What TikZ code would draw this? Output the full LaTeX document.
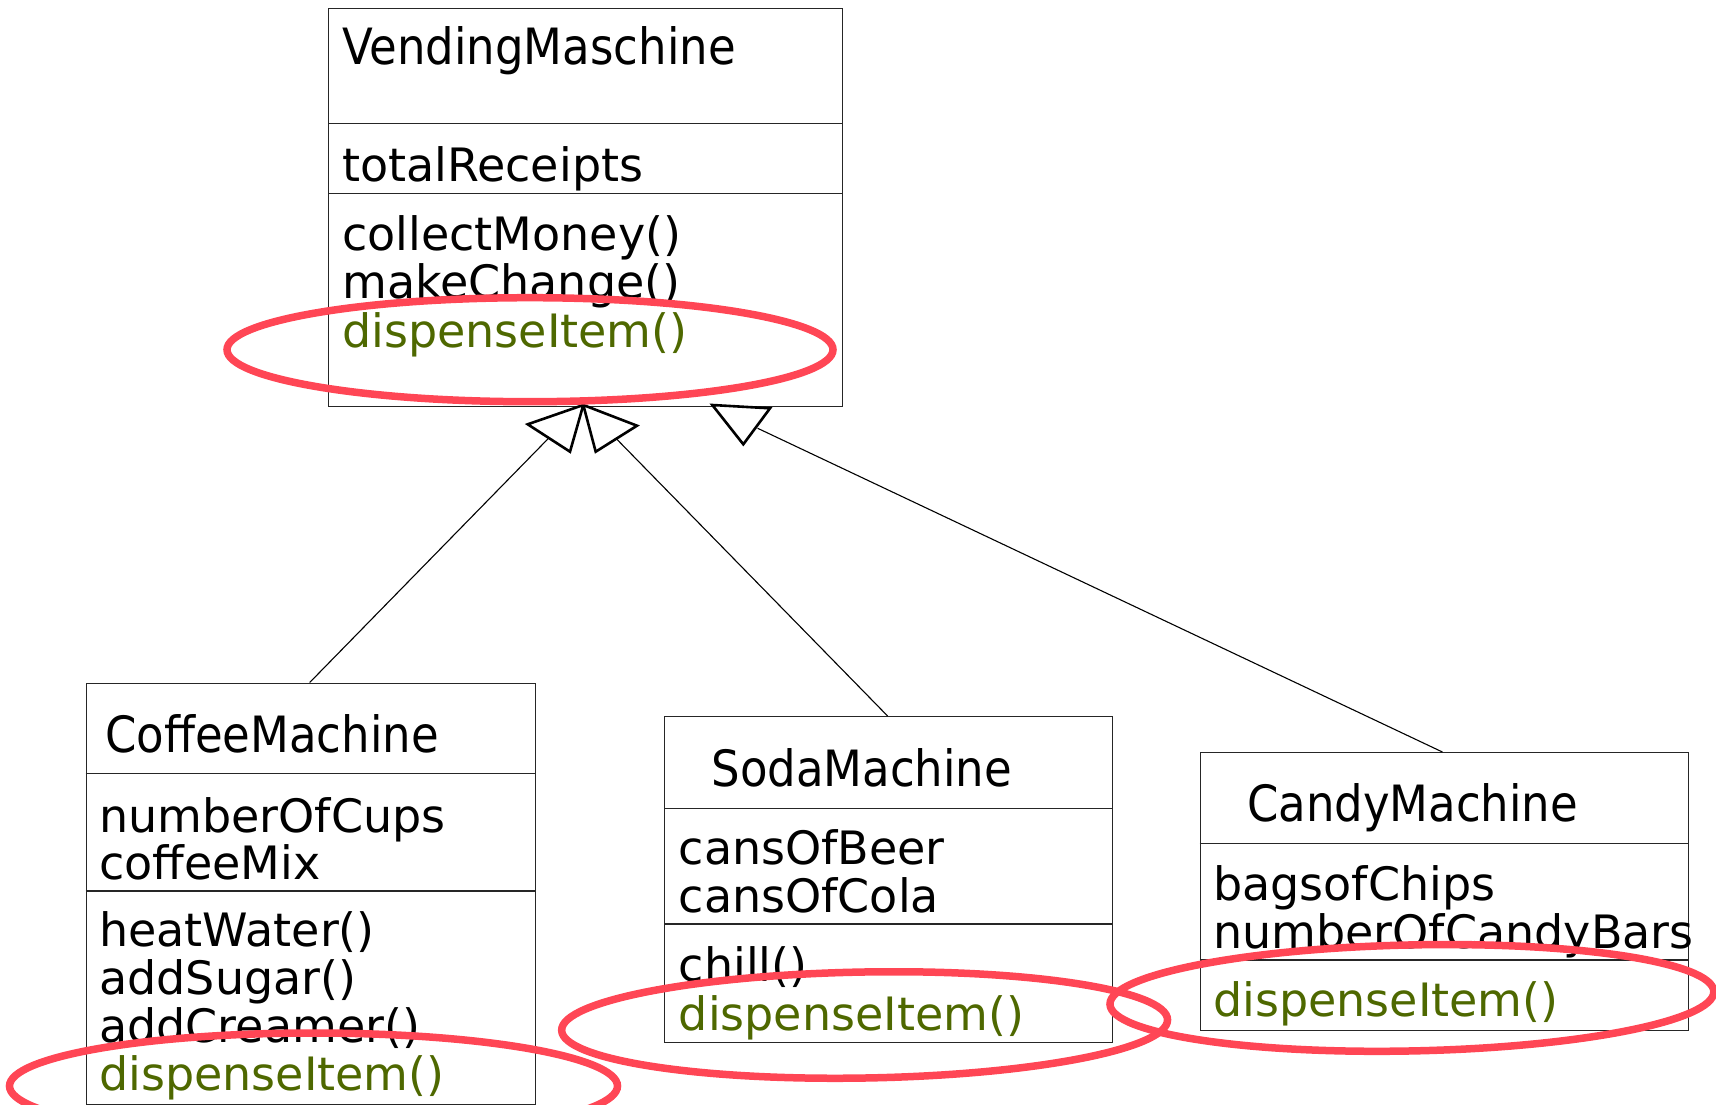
\documentclass[tikz,border=0pt]{standalone}
\usepackage{fontspec}
\setmainfont{DejaVu Sans}
\newfontfamily\titlefont[FakeStretch=0.9]{DejaVu Sans}
\definecolor{circred}{RGB}{255,70,85}
\definecolor{methgreen}{RGB}{78,104,0}
\begin{document}
\begin{tikzpicture}[x=1pt,y=-1pt,
  box/.style={draw=black!85,line width=1.3pt,inner sep=0pt,anchor=north west},
  divider/.style={draw=black!85,line width=1.3pt},
  txt/.style={anchor=base west,inner sep=0pt,font=\fontsize{46}{48}\selectfont},
  ttl/.style={anchor=base west,inner sep=0pt,font=\titlefont\fontsize{50}{52}\selectfont},
  meth/.style={txt,text=methgreen},
  gen/.style={draw=black,line width=2.6pt,fill=white,line join=miter},
  link/.style={draw=black,line width=1.1pt},
  hilite/.style={draw=circred,line width=7.5pt}]
\useasboundingbox (0,0) rectangle (1716,1105);

% class boxes
\node[box,minimum width=514pt,minimum height=398.3pt] (vm) at (328,7.7) {};
\node[box,minimum width=449pt,minimum height=421.5pt] (cm) at (85.7,682.5) {};
\node[box,minimum width=448pt,minimum height=326pt] (sm) at (664,716) {};
\node[box,minimum width=488pt,minimum height=277.5pt] (cd) at (1199.5,752) {};

% dividers
\draw[divider] (328,123.7) -- (842,123.7);
\draw[divider] (328,193.7) -- (842,193.7);
\draw[divider] (85.7,773.7) -- (534.7,773.7);
\draw[divider] (85.7,891) -- (534.7,891);
\draw[divider] (664,808.3) -- (1112,808.3);
\draw[divider] (664,924) -- (1112,924);
\draw[divider] (1199.5,843.7) -- (1687.5,843.7);
\draw[divider] (1199.5,960) -- (1687.5,960);

% texts: VendingMaschine
\node[ttl] (vmt) at (342,65) {VendingMaschine};
\node[txt] (vma1) at (342,182) {totalReceipts};
\node[txt] (vmo1) at (342,250) {collectMoney()};
\node[txt] (vmo2) at (342,298) {makeChange()};
\node[meth] (vmo3) at (342,347) {dispenseItem()};

% CoffeeMachine
\node[ttl] (cmt) at (105,752.3) {CoffeeMachine};
\node[txt] (cma1) at (99,832.3) {numberOfCups};
\node[txt] (cma2) at (99,879) {coffeeMix};
\node[txt] (cmo1) at (99,946.7) {heatWater()};
\node[txt] (cmo2) at (99,994.3) {addSugar()};
\node[txt] (cmo3) at (99,1042.7) {addCreamer()};
\node[meth] (cmo4) at (99,1090) {dispenseItem()};

% SodaMachine
\node[ttl] (smt) at (711.3,786.7) {SodaMachine};
\node[txt] (sma1) at (678.6,864.3) {cansOfBeer};
\node[txt] (sma2) at (678.6,912.3) {cansOfCola};
\node[txt] (smo1) at (678.6,981) {chill()};
\node[meth] (smo2) at (678.6,1030) {dispenseItem()};

% CandyMachine
\node[ttl] (cdt) at (1246.8,821) {CandyMachine};
\node[txt] (cda1) at (1213,900) {bagsofChips};
\node[txt] (cda2) at (1213,948.3) {numberOfCandyBars};
\node[meth] (cdo1) at (1213,1016) {dispenseItem()};

% connector end points
\coordinate (cmtop) at (309.7,682.5);
\coordinate (smtop) at (887.6,716);
\coordinate (cdtop) at (1442.4,752);
\coordinate (cmtri) at (548.8,438);
\coordinate (smtri) at (616.3,438.7);
\coordinate (cdtri) at (757.7,428.3);

% connectors
\draw[link] (cmtop) -- (cmtri);
\draw[link] (smtop) -- (smtri);
\draw[link] (cdtop) -- (cdtri);

% generalization triangles
\draw[gen] (583.3,405) -- (527.7,424.3) -- (570,451.7) -- cycle;
\draw[gen] (583.3,405) -- (637,425.7) -- (595.7,451.7) -- cycle;
\draw[gen] (712.3,405) -- (770,408.3) -- (743.3,444.3) -- cycle;

% highlight ellipses
\coordinate (e1) at (530,349.7);
\coordinate (e2) at (313.5,1086);
\coordinate (e3) at (864.6,1025);
\coordinate (e4) at (1412,998);
\draw[hilite] (e1) ellipse [x radius=303pt, y radius=52pt];
\draw[hilite] (e2) ellipse [x radius=304pt, y radius=53pt];
\draw[hilite,rotate around={1:(e3)}] (e3) ellipse [x radius=303pt, y radius=53pt];
\draw[hilite,rotate around={1.2:(e4)}] (e4) ellipse [x radius=302pt, y radius=53pt];
\end{tikzpicture}
\end{document}
